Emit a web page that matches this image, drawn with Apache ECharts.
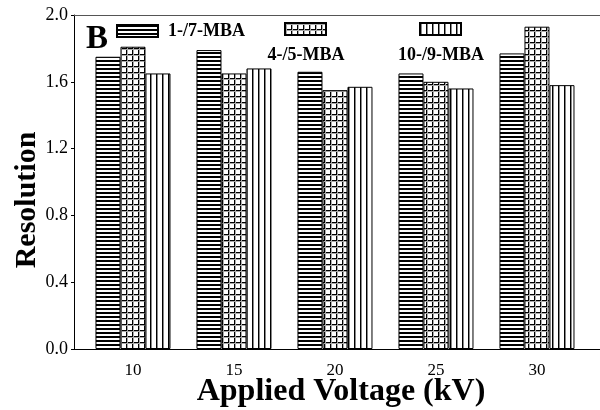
<!DOCTYPE html>
<html>
<head>
<meta charset="utf-8">
<script src="https://cdn.jsdelivr.net/npm/echarts@6/dist/echarts.min.js"></script>
<style>
html,body{margin:0;padding:0;background:#fff;}
#chart{width:600px;height:410px;}
</style>
</head>
<body>
<div id="chart"></div>
<script>
// ---- data ----
const voltages = [10, 15, 20, 25, 30];
const mba17 = [1.75, 1.79, 1.66, 1.65, 1.77];
const mba45 = [1.81, 1.65, 1.55, 1.60, 1.93];
const mba109 = [1.65, 1.68, 1.57, 1.56, 1.58];
const seriesNames = ['1-/7-MBA', '4-/5-MBA', '10-/9-MBA'];
const xTickLabels = [10, 15, 20, 25, 30];

const SERIF = "'Liberation Serif', 'DejaVu Serif', serif";

function makeCanvas(w, h, draw) {
  const c = document.createElement('canvas');
  c.width = w; c.height = h;
  const ctx = c.getContext('2d');
  ctx.fillStyle = '#fff';
  ctx.fillRect(0, 0, w, h);
  draw(ctx);
  return c;
}
const patH = makeCanvas(4, 4, ctx => { ctx.fillStyle = '#000'; ctx.fillRect(0, 0, 4, 2); });
const patGrid = makeCanvas(6, 6, ctx => {
  ctx.fillStyle = '#000'; ctx.fillRect(0, 0, 6, 1); ctx.fillRect(0, 0, 1, 6);
  ctx.fillStyle = '#aaa'; ctx.fillRect(0, 1, 6, 1); ctx.fillRect(1, 0, 1, 6);
});
const patV = makeCanvas(6, 6, ctx => {
  ctx.fillStyle = '#000'; ctx.fillRect(0, 0, 1, 6);
  ctx.fillStyle = '#888'; ctx.fillRect(1, 0, 1, 6);
});
const patterns = [patH, patGrid, patV];
const values = [mba17, mba45, mba109];

const chart = echarts.init(document.getElementById('chart'), null, {renderer: 'canvas'});

const legendBase = {
  icon: 'rect', itemWidth: 41, itemHeight: 12, selectedMode: false, padding: 0,
  textStyle: {fontFamily: SERIF, fontWeight: 'bold', fontSize: 18, color: '#000', padding: [0, 0, 0, 5]}
};

const option = {
  animation: false,
  backgroundColor: '#fff',
  grid: {left: 74, right: 0, top: 15, bottom: 61, containLabel: false, outerBoundsMode: 'none'},
  legend: [
    Object.assign({}, legendBase, {data: [seriesNames[0]], left: 116, top: 22}),
    Object.assign({}, legendBase, {data: [seriesNames[1]], left: 284, top: 22, formatter: () => ''}),
    Object.assign({}, legendBase, {data: [seriesNames[2]], left: 419, top: 22, formatter: () => ''})
  ],
  graphic: [
    {type: 'text', x: 86, y: 39, style: {text: 'B', font: "bold 33px 'Liberation Serif'", fill: '#000', align: 'left', verticalAlign: 'middle'}},
    {type: 'text', x: 306, y: 55, style: {text: seriesNames[1], font: "bold 18px 'Liberation Serif'", fill: '#000', align: 'center', verticalAlign: 'middle'}},
    {type: 'text', x: 441, y: 55, style: {text: seriesNames[2], font: "bold 18px 'Liberation Serif'", fill: '#000', align: 'center', verticalAlign: 'middle'}}
  ],
  xAxis: [
    {
      type: 'value', min: 7.08, max: 33.12, position: 'bottom',
      name: 'Applied Voltage (kV)', nameLocation: 'middle', nameGap: 27, nameMoveOverlap: false,
      nameTextStyle: {fontFamily: SERIF, fontWeight: 'bold', fontSize: 32, color: '#000', padding: [0, 0, 0, 8]},
      axisLine: {show: true, lineStyle: {color: '#000', width: 1}},
      axisTick: {show: false},
      splitLine: {show: false},
      axisLabel: {customValues: xTickLabels, fontFamily: SERIF, fontSize: 17, color: '#000', margin: 13}
    },
    {
      type: 'value', min: 7.08, max: 33.12, position: 'top',
      axisLine: {show: true, onZero: false, lineStyle: {color: '#555', width: 1}},
      axisTick: {show: false}, splitLine: {show: false}, axisLabel: {show: false}
    }
  ],
  yAxis: {
    type: 'value', min: 0, max: 2, interval: 0.4,
    name: 'Resolution', nameLocation: 'middle', nameGap: 32, nameMoveOverlap: false,
    nameTextStyle: {fontFamily: SERIF, fontWeight: 'bold', fontSize: 30, color: '#000', padding: [0, 36, 0, 0]},
    axisLine: {show: true, lineStyle: {color: '#000', width: 1}},
    axisTick: {show: true, length: 3, lineStyle: {color: '#000'}},
    splitLine: {show: false},
    axisLabel: {fontFamily: SERIF, fontSize: 18, color: '#000', margin: 6, formatter: v => v.toFixed(1)}
  },
  series: seriesNames.map((name, s) => ({
    name: name, type: 'bar', xAxisIndex: 0,
    barWidth: 25, barGap: '0%',
    itemStyle: {color: {image: patterns[s], repeat: 'repeat'}, borderColor: '#000', borderWidth: 1},
    data: voltages.map((v, i) => [v, values[s][i]])
  }))
};
chart.setOption(option);
</script>
</body>
</html>
